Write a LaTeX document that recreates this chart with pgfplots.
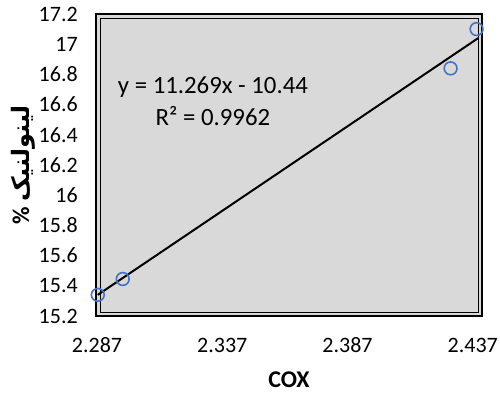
\documentclass[border=0pt]{standalone}
\usepackage{fontspec}
\setmainfont{Carlito}
\newfontfamily\arabicfont[Script=Arabic]{DejaVu Sans}
\TeXXeTstate=1
\usepackage{pgfplots}
\pgfplotsset{compat=1.18}
\definecolor{bg}{HTML}{D9D9D9}
\definecolor{mk}{HTML}{4472C4}
\begin{document}
\begin{tikzpicture}
\begin{axis}[
  at={(0,0)}, anchor=south west,
  scale only axis, width=193pt, height=151pt,
  xmin=2.287, xmax=2.437, ymin=15.2, ymax=17.2,
  xtick={2.287,2.337,2.387,2.437},
  xticklabels={2.287,2.337,2.387,2.437},
  ytick={15.2,15.4,15.6,15.8,16,16.2,16.4,16.6,16.8,17,17.2},
  yticklabels={15.2,15.4,15.6,15.8,16,16.2,16.4,16.6,16.8,17,17.2},
  major tick length=0,
  axis background/.style={fill=bg},
  axis line style={line width=1.4pt},
  tick label style={font=\fontsize{11}{13}\selectfont},
  xticklabel style={anchor=center, yshift=-14.5pt, xshift={0.5pt-1.7pt*\ticknum}},
  yticklabel style={anchor=east, xshift=-5.6pt},
  clip=false,
  xlabel={\textbf{COX}},
  xlabel style={at={([yshift=-32pt]axis description cs:0.5,0)}, anchor=center, font=\fontsize{12}{14}\selectfont},
  ylabel={\textbf{\% {\arabicfont\bfseries\beginR لینولنیک\endR}}},
  ylabel style={at={([xshift=-36.5pt]axis description cs:0,0.5)}, anchor=center, font=\fontsize{12}{14}\selectfont},
]
\draw[line width=0.4pt, black] ([xshift=2pt,yshift=2pt]rel axis cs:0,0) rectangle ([xshift=-2pt,yshift=-2pt]rel axis cs:1,1);
\addplot[black, line width=1pt] coordinates {(2.2877,15.34) (2.4355,17.04)};
\addplot[only marks, mark=o, mark size=3.2pt, mk, line width=0.8pt] coordinates {(2.2877,15.34) (2.2974,15.445) (2.4248,16.84) (2.4349,17.10)};
\node[align=center, font=\fontsize{12.4}{16}\selectfont] at (rel axis cs:0.303,0.712) {y = 11.269x - 10.44\\R² = 0.9962};
\end{axis}
\pgfresetboundingbox
\path (-48pt,-39pt) rectangle (202pt,158pt);
\end{tikzpicture}
\end{document}
